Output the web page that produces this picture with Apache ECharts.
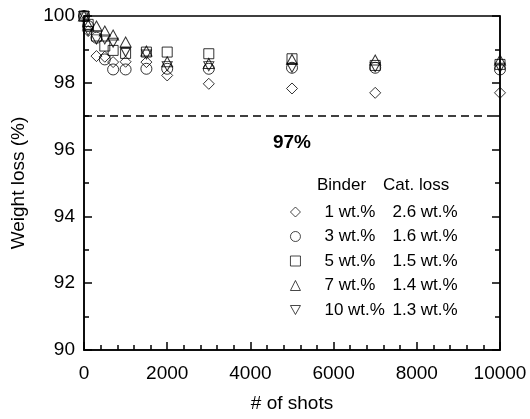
<!DOCTYPE html>
<html>
<head>
<meta charset="utf-8">
<script src="https://cdn.jsdelivr.net/npm/echarts@6/dist/echarts.min.js"></script>
<style>
  html, body { margin: 0; padding: 0; background: #fff; }
  #c { width: 530px; height: 419px; }
</style>
</head>
<body>
<div id="c"></div>
<script>
// Number of shots at which the weight was measured
const shots = [0, 100, 300, 500, 700, 1000, 1500, 2000, 3000, 5000, 7000, 10000];

// Remaining weight (%) for each binder content
const binder1wt  = [100, 99.55, 98.80, 98.78, 98.62, 98.63, 98.62, 98.22, 97.97, 97.83, 97.70, 97.70];
const binder3wt  = [100, 99.70, 99.35, 98.70, 98.40, 98.40, 98.42, 98.42, 98.42, 98.45, 98.45, 98.40];
const binder5wt  = [100, 99.75, 99.40, 99.10, 98.97, 98.88, 98.92, 98.92, 98.87, 98.72, 98.52, 98.55];
const binder7wt  = [100, 99.73, 99.70, 99.55, 99.43, 99.22, 98.95, 98.63, 98.58, 98.70, 98.68, 98.68];
const binder10wt = [100, 99.55, 99.30, 99.30, 99.20, 98.92, 98.85, 98.50, 98.50, 98.45, 98.47, 98.45];

const binderNames = ['1 wt.%', '3 wt.%', '5 wt.%', '7 wt.%', '10 wt.%'];
const catLoss = ['2.6 wt.%', '1.6 wt.%', '1.5 wt.%', '1.4 wt.%', '1.3 wt.%'];
const thresholdLevel = 97;
const thresholdText = '97%';

const FONT = 'Liberation Sans, Arial, sans-serif';
const values = [binder1wt, binder3wt, binder5wt, binder7wt, binder10wt];
const symbols = ['diamond', 'circle', 'rect', 'triangle', 'path://M0,0 L10,0 L5,9 Z'];
const sizes = [[11, 11], 11, 10, [11, 10], [10, 9]];

const series = binderNames.map((name, i) => ({
  name: name,
  type: 'scatter',
  symbol: symbols[i],
  symbolSize: sizes[i],
  itemStyle: { color: 'transparent', borderColor: '#000', borderWidth: 1 },
  emphasis: { disabled: true },
  data: shots.map((s, j) => [s, values[i][j]]),
  z: 3
}));

// Horizontal dashed threshold line
series[0].markLine = {
  silent: true,
  symbol: 'none',
  lineStyle: { color: '#000', type: [8, 5], width: 1.6 },
  label: {
    show: true,
    position: 'insideMiddleBottom',
    formatter: thresholdText,
    color: '#000',
    fontFamily: FONT,
    fontWeight: 'bold',
    fontSize: 19,
    distance: 17
  },
  data: [{ yAxis: thresholdLevel }]
};

const lossByName = {};
binderNames.forEach((n, i) => { lossByName[n] = catLoss[i]; });

const tickStyle = { color: '#000', width: 1.5 };

const chart = echarts.init(document.getElementById('c'), null, { renderer: 'canvas' });
chart.setOption({
  animation: false,
  backgroundColor: '#fff',
  // frame around the plotting area
  grid: { left: 84, right: 30, top: 16, bottom: 69, show: true, borderColor: '#000', borderWidth: 1.5, backgroundColor: 'transparent' },
  xAxis: [{
    type: 'value', min: 0, max: 10000, interval: 2000,
    name: '# of shots', nameLocation: 'middle', nameGap: 44,
    nameTextStyle: { fontFamily: FONT, fontSize: 19, color: '#000' },
    axisLine: { show: true, lineStyle: { color: '#000', width: 1.5 } },
    axisTick: { show: true, inside: true, length: 8, lineStyle: tickStyle },
    minorTick: { show: true, splitNumber: 5, length: 5, lineStyle: tickStyle },
    axisLabel: { fontFamily: FONT, fontSize: 19, color: '#000', margin: 14, formatter: v => String(v) },
    splitLine: { show: false }
  }],
  yAxis: [{
    type: 'value', min: 90, max: 100, interval: 2,
    name: 'Weight loss (%)', nameLocation: 'middle', nameGap: 56,
    nameTextStyle: { fontFamily: FONT, fontSize: 19, color: '#000' },
    axisLine: { show: true, lineStyle: { color: '#000', width: 1.5 } },
    axisTick: { show: true, inside: true, length: 8, lineStyle: tickStyle },
    minorTick: { show: true, splitNumber: 2, length: 5, lineStyle: tickStyle },
    axisLabel: { fontFamily: FONT, fontSize: 19, color: '#000', margin: 9 },
    splitLine: { show: false }
  }, {
    type: 'value', position: 'right', min: 90, max: 100, interval: 2,
    axisLine: { show: true, lineStyle: { color: '#000', width: 1.5 } },
    axisTick: { show: true, inside: true, length: 8, lineStyle: tickStyle },
    minorTick: { show: true, splitNumber: 2, length: 5, lineStyle: tickStyle },
    axisLabel: { show: false }, splitLine: { show: false }
  }],
  legend: {
    orient: 'vertical',
    left: 285, top: 197,
    itemWidth: 10, itemHeight: 10,
    itemGap: 4.5,
    selectedMode: false,
    data: binderNames,
    itemStyle: { borderWidth: 0.9 },
    formatter: name => `{a|${name}}{b|${lossByName[name]}}`,
    textStyle: {
      fontFamily: FONT, fontSize: 17, color: '#000', lineHeight: 20,
      rich: {
        a: { fontFamily: FONT, fontSize: 17, color: '#000', width: 68, padding: [0, 0, 0, 19] },
        b: { fontFamily: FONT, fontSize: 17, color: '#000' }
      }
    }
  },
  graphic: [{
    type: 'text', left: 317, top: 177,
    style: { text: 'Binder', font: '17px ' + FONT, fill: '#000' }
  }, {
    type: 'text', left: 383, top: 177,
    style: { text: 'Cat. loss', font: '17px ' + FONT, fill: '#000' }
  }],
  series: series
});
</script>
</body>
</html>
